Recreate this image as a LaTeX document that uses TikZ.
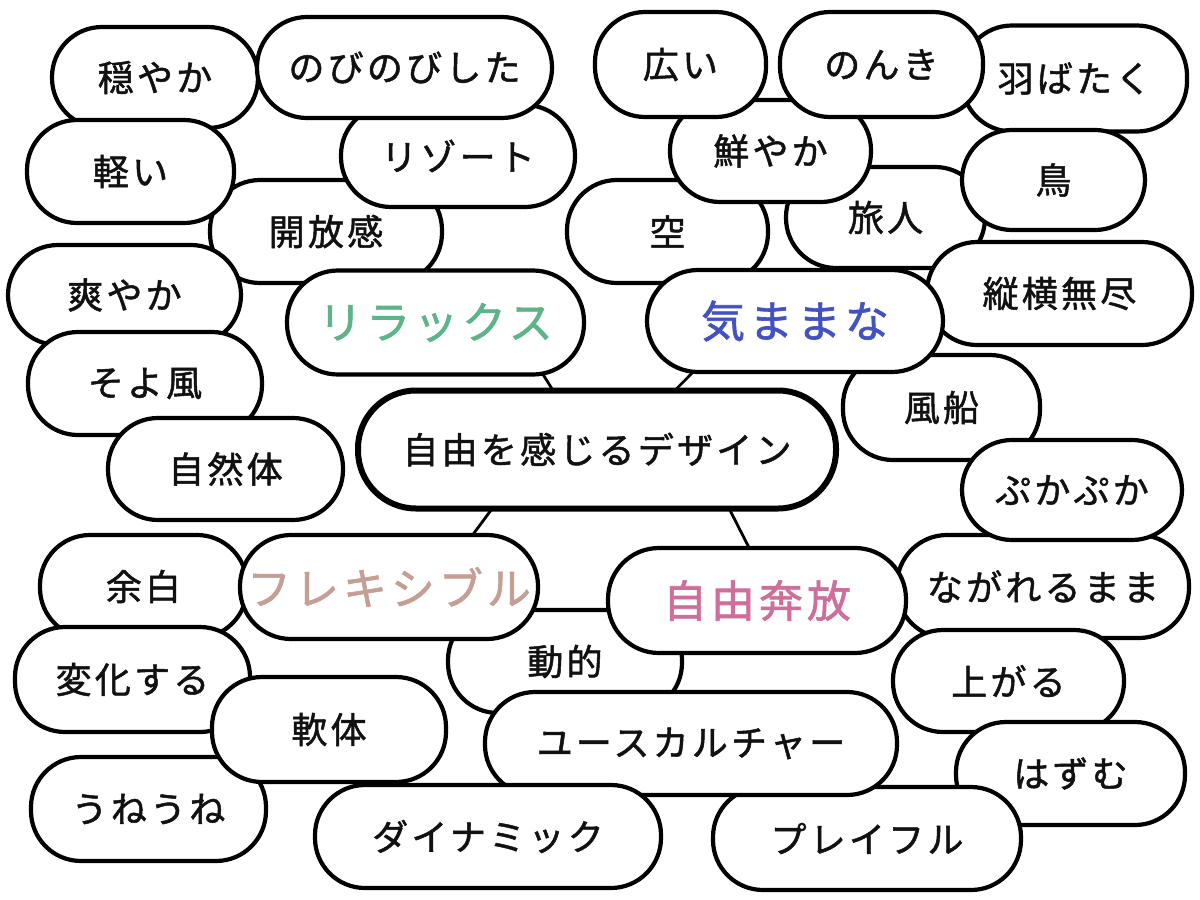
\documentclass[tikz,border=0pt]{standalone}
\usepackage{fontspec}
\newfontfamily\jp[LetterSpace=9,FakeBold=1.4]{Noto Sans CJK JP}
\usetikzlibrary{calc}
\pgfdeclarelayer{background}
\pgfsetlayers{background,main}
\definecolor{cgreen}{HTML}{5DB489}
\definecolor{cblue}{HTML}{4352C2}
\definecolor{ctan}{HTML}{C49F94}
\definecolor{cpink}{HTML}{CE6E9B}
\definecolor{ink}{HTML}{111111}
\tikzset{
  pill/.style={draw=black, fill=white, inner sep=0pt, align=center, text=ink},
  leaf/.style={pill, line width=4.2pt, rounded corners=50pt, minimum height=103pt,
    font=\jp\fontsize{36}{40}\selectfont},
  theme/.style={pill, line width=4.2pt, rounded corners=51pt, minimum height=104pt,
    font=\jp\fontsize{44}{48}\selectfont},
  core/.style={pill, line width=6pt, rounded corners=58pt, minimum height=118pt,
    font=\jp\fontsize{36}{40}\selectfont},
  link/.style={draw=black, line width=2.8pt}
}
\begin{document}
\begin{tikzpicture}[x=1pt,y=-1pt]
\useasboundingbox (0,0) rectangle (1200,900);
% ---- leaves, top left
\node[leaf, minimum width=232pt] (kaiho) at (326,231.5) {開放感};
\node[leaf, minimum width=234pt, minimum height=102pt] (resort) at (458,156) {リゾート};
\node[leaf, minimum width=206pt, minimum height=101pt] (odayaka) at (155,77.5) {穏やか};
\node[leaf, minimum width=295pt, minimum height=101pt] (nobinobi) at (404.5,67.5) {のびのびした};
\node[leaf, minimum width=207pt] (karui) at (130.5,171.5) {軽い};
\node[leaf, minimum width=233pt, minimum height=100pt] (sawayaka) at (124.5,295) {爽やか};
\node[leaf, minimum width=234pt] (soyokaze) at (145,383.5) {そよ風};
\node[leaf, minimum width=235pt, minimum height=102pt] (shizentai) at (225.5,469) {自然体};
% ---- leaves, top right
\node[leaf, minimum width=201pt] (sora) at (667.5,231.5) {空};
\node[leaf, minimum width=199pt, minimum height=101pt] (tabibito) at (885.5,217.5) {旅人};
\node[leaf, minimum width=201pt, minimum height=102pt] (azayaka) at (770.5,151) {鮮やか};
\node[leaf, minimum width=171pt, minimum height=105pt] (hiroi) at (680.5,64.5) {広い};
\node[leaf, minimum width=225pt, minimum height=106pt] (habataku) at (1074.5,78.5) {羽ばたく};
\node[leaf, minimum width=203pt, minimum height=105pt] (nonki) at (881.5,64.5) {のんき};
\node[leaf, minimum width=183pt, minimum height=100pt] (tori) at (1053.5,180) {鳥};
\node[leaf, minimum width=265pt] (juou) at (1059.5,293.5) {縦横無尽};
% ---- leaves, right and bottom
\node[leaf, minimum width=197pt, minimum height=105pt] (fusen) at (941.5,407.5) {風船};
\node[leaf, minimum width=292pt] (nagareru) at (1043,586.5) {ながれるまま};
\node[leaf, minimum width=220pt, minimum height=100pt] (pukapuka) at (1072,490) {ぷかぷか};
\node[leaf, minimum width=231pt, minimum height=102pt] (agaru) at (1008.5,681) {上がる};
\node[leaf, minimum width=229pt] (hazumu) at (1070.5,773.5) {はずむ};
\node[leaf, minimum width=308pt] (playful) at (867,838.5) {プレイフル};
\node[leaf, minimum width=234pt] (doteki) at (565,661.5) {動的};
\node[leaf, minimum width=412pt] (youth) at (691,743.5) {ユースカルチャー};
\node[leaf, minimum width=207pt] (yohaku) at (143.5,586.5) {余白};
\node[leaf, minimum width=235pt, minimum height=105pt] (henka) at (132.5,679.5) {変化する};
\node[leaf, minimum width=235pt, minimum height=104pt] (uneune) at (148.5,809) {うねうね};
\node[leaf, minimum width=234pt, minimum height=105pt] (nantai) at (329,729.5) {軟体};
\node[leaf, minimum width=346pt] (dynamic) at (488,836.5) {ダイナミック};
% ---- themes
\node[theme, minimum width=297pt, text=cgreen] (relax) at (435.5,322.5) {リラックス};
\node[theme, minimum width=296pt, minimum height=102pt, text=cblue] (kimama) at (795,321) {気ままな};
\node[theme, minimum width=298pt, text=ctan] (flex) at (389,587) {フレキシブル};
\node[theme, minimum width=298pt, minimum height=105pt, text=cpink] (jiyu) at (757,600.5) {自由奔放};
% ---- core
\node[core, minimum width=478pt] (core) at (597,449.5) {自由を感じるデザイン};
% ---- connectors
\begin{pgfonlayer}{background}
\draw[link] ([xshift=-7pt]core.center) -- ([xshift=75pt]relax.center);
\draw[link] ([xshift=19pt]core.center) -- ([xshift=-51pt]kimama.center);
\draw[link] ([xshift=-61pt]core.center) -- ([xshift=45pt]flex.center);
\draw[link] ([xshift=102pt]core.center) -- ([xshift=19pt]jiyu.center);
\end{pgfonlayer}
\end{tikzpicture}
\end{document}
